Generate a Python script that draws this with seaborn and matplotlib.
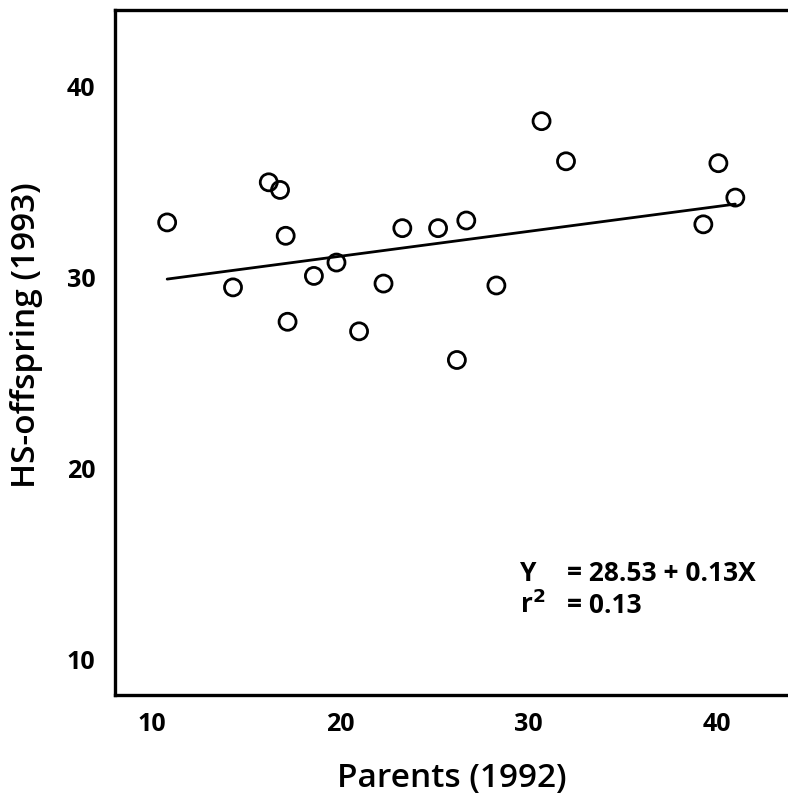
import numpy as np
import pandas as pd
import matplotlib
matplotlib.use("Agg")
import matplotlib.pyplot as plt
import seaborn as sns

# Heterosis scores: parents measured in 1992, their offspring in 1993
parents_1992 = [10.8, 14.3, 16.2, 16.8, 17.1, 17.2, 18.6, 19.8, 21.0, 22.3,
                23.3, 25.2, 26.7, 26.2, 28.3, 30.7, 32.0, 40.1, 39.3, 41.0]
offspring_1993 = [32.9, 29.5, 35.0, 34.6, 32.2, 27.7, 30.1, 30.8, 27.2, 29.7,
                  32.6, 32.6, 33.0, 25.7, 29.6, 38.2, 36.1, 36.0, 32.8, 34.2]

# Least-squares fit reported on the chart
intercept = 28.53
slope = 0.13
r_squared = 0.13

x_ticks = [10, 20, 30, 40]
y_ticks = [10, 20, 30, 40]

df = pd.DataFrame({"parents": parents_1992, "offspring": offspring_1993})

sns.set_theme(style="white")
plt.rcParams["font.family"] = ["Open Sans", "DejaVu Sans"]
plt.rcParams["text.color"] = "black"
plt.rcParams["axes.labelcolor"] = "black"
plt.rcParams["xtick.color"] = "black"
plt.rcParams["ytick.color"] = "black"

fig = plt.figure(figsize=(7.88, 7.96), dpi=100)
ax = fig.add_axes([0.146, 0.127, 0.854, 0.860])

sns.scatterplot(data=df, x="parents", y="offspring", ax=ax, marker="o", s=150,
                facecolor="none", edgecolor="black", linewidth=2.0, zorder=3)

fit_x = np.array([min(parents_1992), max(parents_1992)])
fit = pd.DataFrame({"x": fit_x, "y": intercept + slope * fit_x})
sns.lineplot(data=fit, x="x", y="y", ax=ax, color="black", linewidth=2.0, zorder=2)

ax.set_xlim(8.03, 43.8)
ax.set_ylim(8.17, 44.0)
ax.set_xticks(x_ticks)
ax.set_yticks(y_ticks)
ax.set_xticklabels([str(t) for t in x_ticks], fontsize=18, fontweight="bold")
ax.set_yticklabels([str(t) for t in y_ticks], fontsize=18, fontweight="bold")
ax.tick_params(axis="x", length=0, pad=12)
ax.tick_params(axis="y", length=0, pad=14)

for side in ["left", "top", "bottom"]:
    ax.spines[side].set_visible(True)
    ax.spines[side].set_linewidth(2.4)
    ax.spines[side].set_color("black")
ax.spines["right"].set_visible(False)

ax.set_xlabel("Parents (1992)", fontsize=24, fontweight="semibold", labelpad=18)
ax.set_ylabel("HS-offspring (1993)", fontsize=24, fontweight="semibold")
ax.yaxis.set_label_coords(-0.107, 0.526)

eq_y, r2_y = 0.178, 0.131
ax.text(0.602, eq_y, "Y", transform=ax.transAxes, fontsize=19,
        fontweight="bold", va="center", ha="left")
ax.text(0.672, eq_y, f"= {intercept:.2f} + {slope:.2f}X", transform=ax.transAxes,
        fontsize=19, fontweight="bold", va="center", ha="left")
ax.text(0.602, r2_y, r"r$^{\mathbf{2}}$", transform=ax.transAxes, fontsize=19,
        fontweight="bold", va="center", ha="left")
ax.text(0.672, r2_y, f"= {r_squared:.2f}", transform=ax.transAxes,
        fontsize=19, fontweight="bold", va="center", ha="left")

fig.savefig("out.png", dpi=100)
